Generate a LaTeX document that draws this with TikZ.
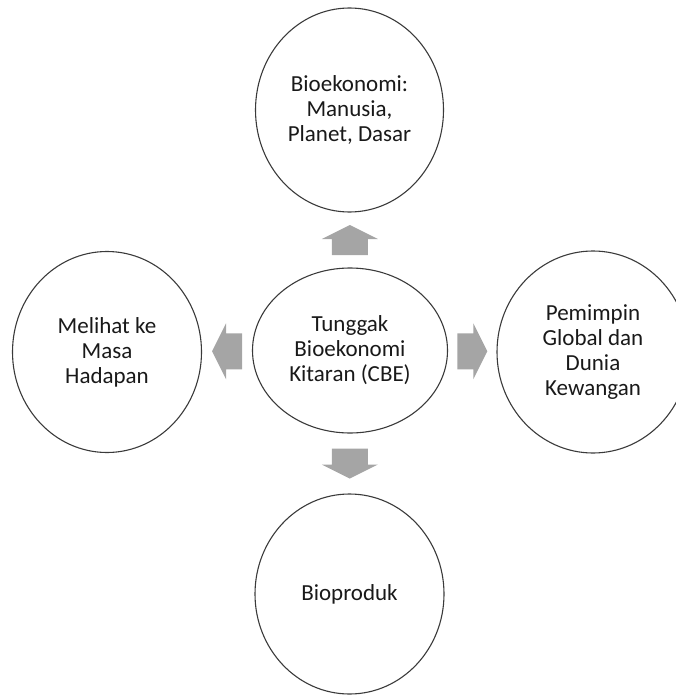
\documentclass[tikz,border=0pt]{standalone}
\usepackage{fontspec}
\setmainfont{Carlito}
\usetikzlibrary{shapes.geometric,calc}

\definecolor{arrowgray}{HTML}{A5A5A5}
\definecolor{linegray}{HTML}{3A3A3A}

\tikzset{
  bubble/.style={ellipse, draw=linegray, line width=1.1pt, inner sep=0pt,
    align=center, text=black!90, font=\fontsize{23}{25}\selectfont},
  blockarrow/.pic={
    \fill[arrowgray] (-15,-18) -- (1,-18) -- (1,-28) -- (15,0)
      -- (1,28) -- (1,18) -- (-15,18) -- cycle;
  }
}

\begin{document}
\begin{tikzpicture}[x=1pt, y=-1pt]
  \useasboundingbox (0,0) rectangle (676,695);

  %%%%%%%%%%%%%%%%%%%%%%%%%%%%%%%%%%%%%%%%%%%%%%%%%
  % Centre
  \node[bubble, minimum width=195pt, minimum height=165pt] (cbe)
      at (350,350.5) {Tunggak\\Bioekonomi\\Kitaran (CBE)};

  % Outer circles
  \node[bubble, minimum width=188pt, minimum height=204pt] (bioeko)
      at (349.5,110) {Bioekonomi:\\Manusia,\\Planet, Dasar};
  \node[bubble, minimum width=189pt, minimum height=201pt] (masadepan)
      at (107,352) {Melihat ke\\Masa\\Hadapan};
  \node[bubble, minimum width=192pt, minimum height=202pt] (pemimpin)
      at (593,352) {Pemimpin\\Global dan\\Dunia\\Kewangan};
  \node[bubble, minimum width=189pt, minimum height=200pt] (bioproduk)
      at (349.5,594) {Bioproduk};

  %%%%%%%%%%%%%%%%%%%%%%%%%%%%%%%%%%%%%%%%%%%%%%%%%
  % Block arrows
  \pic[rotate=90]  at ($(cbe.north)!0.5!(bioeko.south)$) {blockarrow};
  \pic[rotate=-90] at ($(cbe.south)!0.5!(bioproduk.north)$) {blockarrow};
  \pic[rotate=180] at ($(cbe.west)!0.5!(masadepan.east)$) {blockarrow};
  \pic             at ($(cbe.east)!0.5!(pemimpin.west)$) {blockarrow};

\end{tikzpicture}
\end{document}
